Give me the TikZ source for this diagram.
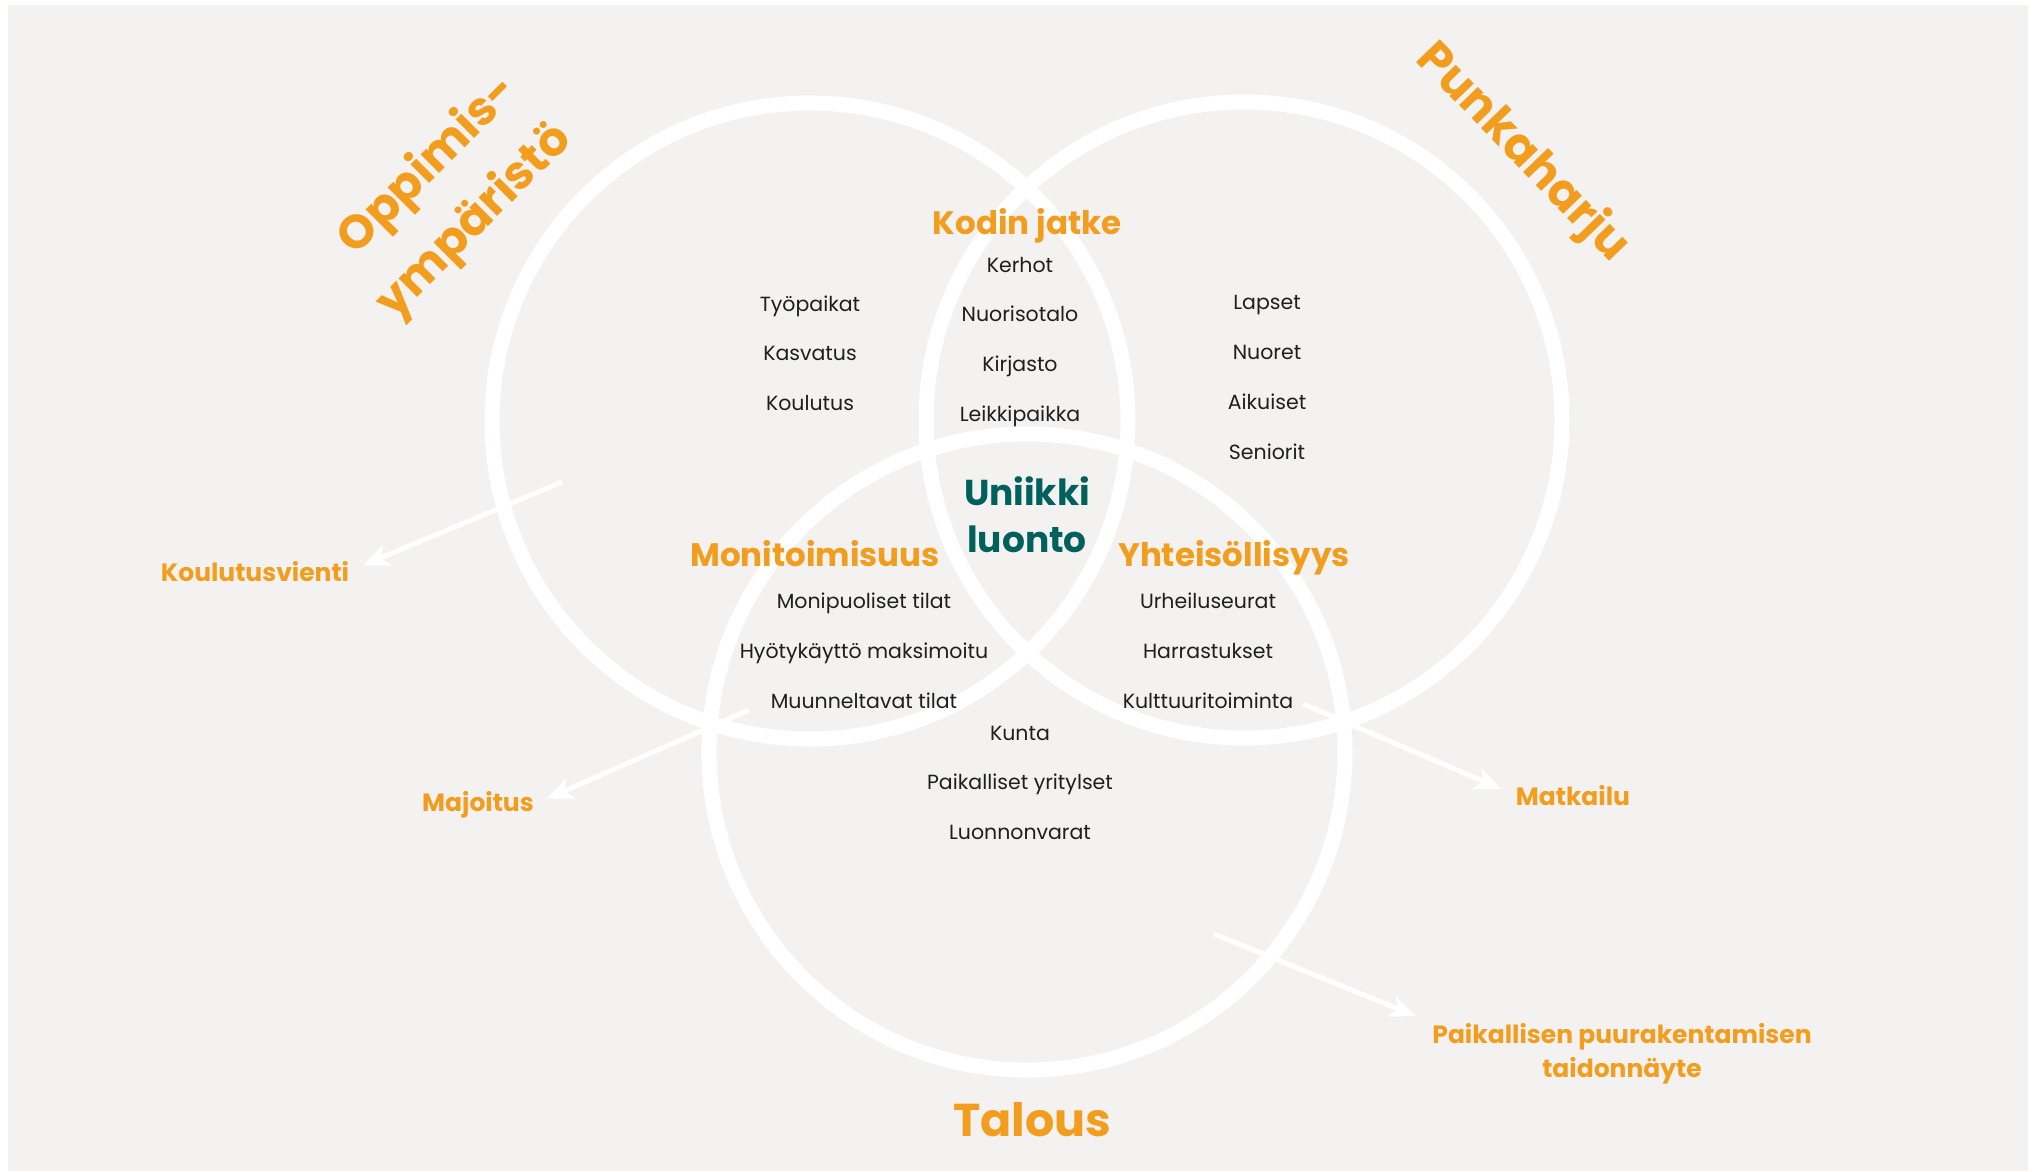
\documentclass[tikz,border=0pt]{standalone}
\usepackage{fontspec}
\setmainfont{Poppins}
\usetikzlibrary{arrows.meta}
\definecolor{venorange}{HTML}{F29D1E}
\definecolor{venteal}{HTML}{00615C}
\definecolor{vengrey}{HTML}{F3F2F0}
\definecolor{ventext}{HTML}{1F1F1F}
\tikzset{
    ring/.style={draw=white, line width=15pt}, % 白色圆环
    item/.style={anchor=base, inner sep=0pt, text=ventext,
        font=\fontsize{20.5}{25}\selectfont},
    headline/.style={anchor=base, inner sep=0pt, text=venorange,
        font=\bfseries\fontsize{32.5}{40}\selectfont},
    bigtitle/.style={inner sep=0pt, text=venorange,
        font=\bfseries\fontsize{47}{56}\selectfont},
    outlabel/.style={anchor=base, inner sep=0pt, text=venorange, align=center,
        font=\bfseries\fontsize{25}{34}\selectfont},
    outarrow/.style={draw=white, line width=5pt,
        -{Stealth[length=26pt, width=22pt, inset=7pt]}}, % 白色箭头
}

\begin{document}
\begin{tikzpicture}[x=1pt, y=-1pt]
    \useasboundingbox (0,0) rectangle (2035,1171);
    \fill[white] (0,0) rectangle (2035,1171);
    \fill[vengrey] (8,5) rectangle (2028,1171);

    % 三个圆
    \draw[ring] (810,421) circle[radius=318pt];
    \draw[ring] (1244,420) circle[radius=318pt];
    \draw[ring] (1027,752) circle[radius=318pt];

    % 圆外的标题
    \node[bigtitle, rotate=45] (oppimis) at (429,166) {Oppimis-};
    \node[bigtitle, rotate=45] (ymparisto) at (475,222) {ympäristö};
    \node[bigtitle, rotate=-46] (punkaharju) at (1522,153) {Punkaharju};
    \node[bigtitle, anchor=base, font=\bfseries\fontsize{46}{56}\selectfont] (talous) at (1032,1136) {Talous};

    % 交集的标题
    \node[headline] (kodin) at (1027,234.5) {Kodin jatke};
    \node[headline] (monitoim) at (815,566.5) {Monitoimisuus};
    \node[headline] (yhteis) at (1234,566.5) {Yhteisöllisyys};
    \node[headline, text=venteal, anchor=south, align=center,
        font=\bfseries\fontsize{36}{47}\selectfont] (uniikki) at (1027,553) {Uniikki\\luonto};

    % 列表
    \foreach \txt [count=\i] in {Työpaikat, Kasvatus, Koulutus}
        \node[item] (oppi\i) at (810,{311+49.5*(\i-1)}) {\txt};
    \foreach \txt [count=\i] in {Kerhot, Nuorisotalo, Kirjasto, Leikkipaikka}
        \node[item] (koti\i) at (1020,{272+49.7*(\i-1)}) {\txt};
    \foreach \txt [count=\i] in {Lapset, Nuoret, Aikuiset, Seniorit}
        \node[item] (ihmiset\i) at (1267,{309+50*(\i-1)}) {\txt};
    \foreach \txt [count=\i] in {Monipuoliset tilat, Hyötykäyttö maksimoitu, Muunneltavat tilat}
        \node[item] (tilat\i) at (864,{608+50*(\i-1)}) {\txt};
    \foreach \txt [count=\i] in {Urheiluseurat, Harrastukset, Kulttuuritoiminta}
        \node[item] (yhdessa\i) at (1208,{608+50*(\i-1)}) {\txt};
    \foreach \txt [count=\i] in {Kunta, Paikalliset yritylset, Luonnonvarat}
        \node[item] (talous\i) at (1020,{740+49.5*(\i-1)}) {\txt};

    % 外部标签和箭头
    \node[outlabel] (kvienti) at (255,581) {Koulutusvienti};
    \node[outlabel] (majoitus) at (478,811) {Majoitus};
    \node[outlabel] (matkailu) at (1573,805) {Matkailu};
    \node[outlabel] (puu) at (1622,1077) {Paikallisen puurakentamisen\\taidonnäyte};

    \coordinate (kvfrom) at (562,482);
    \coordinate (majfrom) at (749,710);
    \coordinate (matfrom) at (1303,704);
    \coordinate (puufrom) at (1214,934);
    \draw[outarrow, shorten >=15pt] (kvfrom) -- (kvienti.east);
    \draw[outarrow, shorten >=14pt] (majfrom) -- (majoitus.east);
    \draw[outarrow, shorten >=16pt] (matfrom) -- (matkailu.west);
    \draw[outarrow, shorten >=18pt] (puufrom) -- (puu.north west);
\end{tikzpicture}
\end{document}
